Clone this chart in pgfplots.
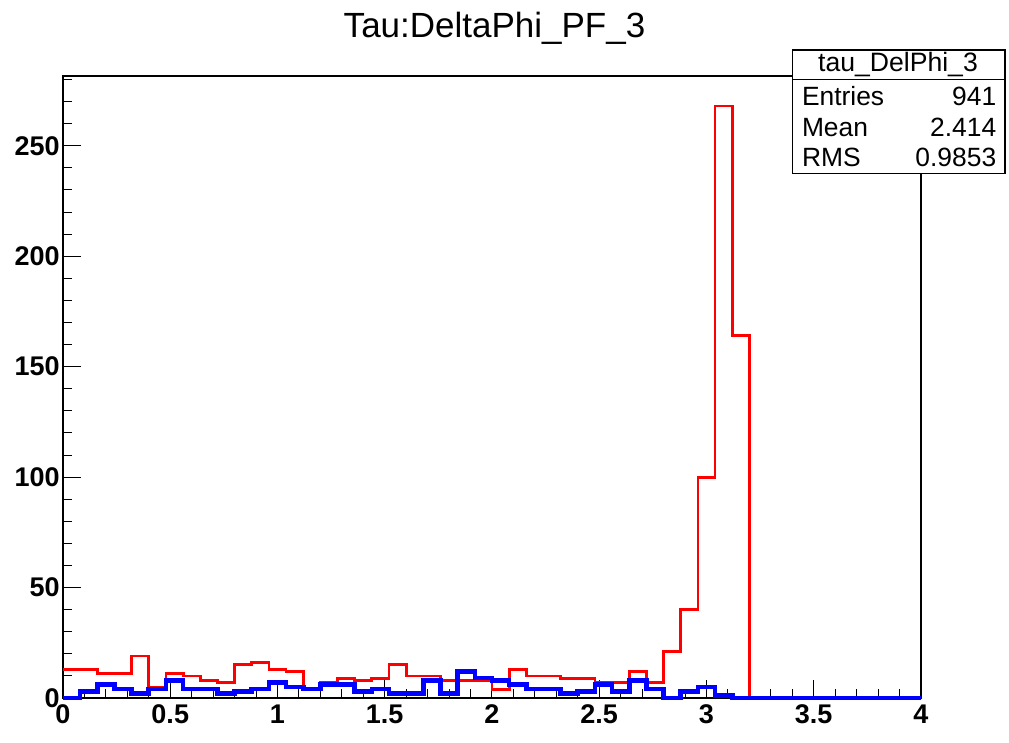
\documentclass[border=0pt]{standalone}
\usepackage{pgfplots}
\pgfplotsset{compat=1.18}
\usepackage{pgfplotstable}
\usepackage{fontspec}
\setmainfont{Liberation Sans}
\pgfplotstableread{
x red blue
0.00 13 0
0.08 13 3
0.16 11 6
0.24 11 4
0.32 19 2
0.40 5 4
0.48 11 8
0.56 10 4
0.64 8 4
0.72 7 2
0.80 15 3
0.88 16 4
0.96 13 7
1.04 12 5
1.12 4 4
1.20 7 6
1.28 9 6
1.36 8 3
1.44 9 4
1.52 15 2
1.60 10 2
1.68 10 8
1.76 8 2
1.84 8 12
1.92 8 9
2.00 4 8
2.08 13 6
2.16 10 4
2.24 10 4
2.32 9 2
2.40 9 3
2.48 7 6
2.56 7 3
2.64 12 8
2.72 7 4
2.80 21 0
2.88 40 3
2.96 100 5
3.04 268 1
3.12 164 0
3.20 0 0
3.28 0 0
3.36 0 0
3.44 0 0
3.52 0 0
3.60 0 0
3.68 0 0
3.76 0 0
3.84 0 0
3.92 0 0
4.00 0 0
}\histdata
\begin{document}
\begin{tikzpicture}
\useasboundingbox (0,0) rectangle (504.5pt,371.5pt);
\begin{axis}[
  at={(31.5pt,22.5pt)}, anchor=south west,
  scale only axis, width=429pt, height=311pt,
  xmin=0, xmax=4, ymin=0, ymax=281.6,
  xtick={0,0.5,...,4},
  minor xtick={0.1,0.2,...,3.95},
  ytick={0,50,...,250},
  minor ytick={10,20,...,280},
  tick pos=left, tick align=inside,
  major tick length=9pt, minor tick length=4.5pt,
  tick style={black, line width=0.5pt},
  axis line style={black, line width=0.6pt},
  /pgf/number format/assume math mode=true,
  tick label style={font=\fontsize{13.5}{16}\selectfont\bfseries},
  yticklabel style={inner xsep=1.5pt},
  clip=false,
]
\addplot[const plot mark left, red, line width=1.4pt, no markers] table[x=x, y=red] {\histdata};
\addplot[const plot mark left, blue, line width=2.3pt, no markers] table[x=x, y=blue] {\histdata};
\end{axis}
\node[anchor=base, inner sep=0pt, font=\fontsize{17.5}{20}\selectfont] at (247.25pt,352.85pt) {Tau:DeltaPhi\_PF\_3};
\draw[black, line width=0.6pt, fill=white] (396.35pt,284.85pt) rectangle (502.5pt,346.5pt);
\draw[black, line width=0.6pt] (396.35pt,331.85pt) -- (502.5pt,331.85pt);
\node[anchor=base, inner sep=0pt, font=\fontsize{13.3}{15}\selectfont] at (449pt,335.65pt) {tau\_DelPhi\_3};
\begin{scope}[every node/.style={inner sep=0pt, font=\fontsize{13.2}{15}\selectfont}]
\node[anchor=base west] at (400.8pt,318.65pt) {Entries};
\node[anchor=base east] at (498.3pt,318.65pt) {941};
\node[anchor=base west] at (400.8pt,303.4pt) {Mean};
\node[anchor=base east] at (498.3pt,303.4pt) {2.414};
\node[anchor=base west] at (400.8pt,288.15pt) {RMS};
\node[anchor=base east] at (498.3pt,288.15pt) {0.9853};
\end{scope}
\end{tikzpicture}
\end{document}
